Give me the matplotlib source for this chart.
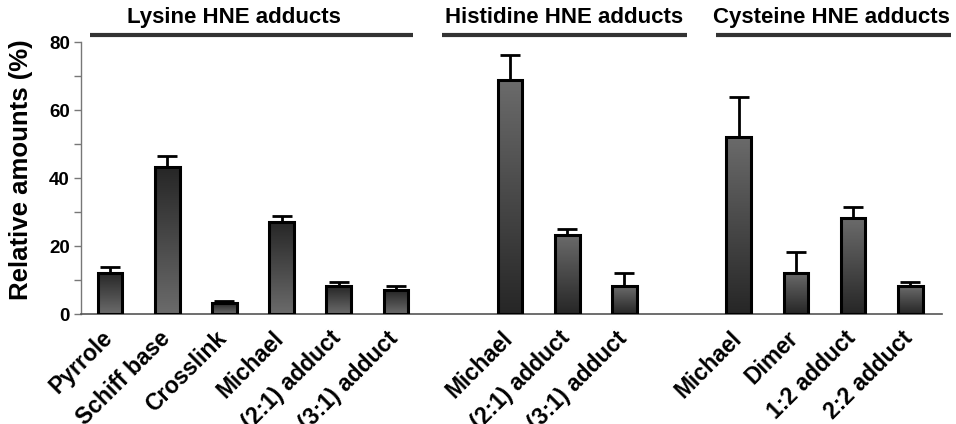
import numpy as np
import matplotlib.pyplot as plt
import matplotlib.transforms as mtransforms
from matplotlib.colors import LinearSegmentedColormap

plt.rcParams['font.family'] = ['Liberation Sans', 'DejaVu Sans']
plt.rcParams['font.weight'] = 'bold'

# Adduct categories, grouped by amino acid
lysine = ['Pyrrole', 'Schiff base', 'Crosslink', 'Michael', '(2:1) adduct', '(3:1) adduct']
histidine = ['Michael', '(2:1) adduct', '(3:1) adduct']
cysteine = ['Michael', 'Dimer', '1:2 adduct', '2:2 adduct']

lysine_vals = [12.1, 43.3, 3.2, 27.2, 8.2, 7.0]
lysine_err = [1.7, 3.2, 0.7, 1.7, 1.3, 1.2]
histidine_vals = [68.8, 23.3, 8.2]
histidine_err = [7.5, 1.8, 3.8]
cysteine_vals = [52.1, 12.2, 28.2, 8.2]
cysteine_err = [11.6, 5.9, 3.2, 1.3]

group_titles = ['Lysine HNE adducts', 'Histidine HNE adducts', 'Cysteine HNE adducts']
yticks = [0, 20, 40, 60, 80]

fig = plt.figure(figsize=(9.56, 4.24), dpi=100)
ax = fig.add_axes([0.0847, 0.2594, 0.9003, 0.6415])

groups = [(lysine, lysine_vals, lysine_err, False),
          (histidine, histidine_vals, histidine_err, True),
          (cysteine, cysteine_vals, cysteine_err, True)]

dark_top = LinearSegmentedColormap.from_list('dt', ['#6b6b6b', '#262626'])
light_top = LinearSegmentedColormap.from_list('lt', ['#262626', '#6b6b6b'])

width = 0.43
pos = 0
xs, labels = [], []
for names, vals, errs, flip in groups:
    x = np.arange(pos, pos + len(names))
    bars = ax.bar(x, vals, width=width, facecolor='none', edgecolor='black',
                  linewidth=2.2, zorder=3)
    grad = np.linspace(0, 1, 256).reshape(-1, 1)
    for b in bars:
        bx, by = b.get_x(), b.get_y()
        im = ax.imshow(grad, cmap=light_top if flip else dark_top, origin='lower',
                       aspect='auto', extent=[bx, bx + b.get_width(), by, by + b.get_height()],
                       zorder=2)
        im.set_clip_path(b)
    ax.errorbar(x, vals, yerr=[np.zeros(len(vals)), errs], fmt='none', ecolor='black',
                elinewidth=2, capsize=7, capthick=2, zorder=2.5)
    xs.extend(x)
    labels.extend(names)
    pos = x[-1] + 2

ax.set_xlim(-0.51, 14.55)
ax.set_ylim(0, 80)
ax.set_xticks(xs)
ax.set_xticklabels(labels, rotation=45, ha='right', va='top', rotation_mode='anchor',
                   fontsize=16.5, fontweight='bold')
ax.tick_params(axis='x', length=0, pad=9)
shift = mtransforms.ScaledTranslation(-9 / 100, 0, fig.dpi_scale_trans)
for lab in ax.get_xticklabels():
    lab.set_transform(lab.get_transform() + shift)

ax.set_yticks(yticks)
ax.set_yticks([10, 30, 50, 70], minor=True)
ax.tick_params(axis='y', which='both', direction='out', length=5, width=1, color='#777777',
               labelsize=13.5, pad=3)
for lab in ax.get_yticklabels():
    lab.set_fontweight('bold')
ax.set_ylabel('Relative amounts (%)', fontsize=18.5, fontweight='bold')
ax.yaxis.set_label_coords(-0.056, 0.53)

for side in ['top', 'right']:
    ax.spines[side].set_visible(False)
ax.spines['left'].set_color('#777777')
ax.spines['bottom'].set_color('#555555')
ax.spines['left'].set_linewidth(1)
ax.spines['bottom'].set_linewidth(1.2)

# Group headers with underlines
header_lines = [(-0.35, 5.30), (5.80, 10.10), (10.61, 14.72)]
header_text_x = [2.17, 7.95, 12.62]
for title, (x0, x1), tx in zip(group_titles, header_lines, header_text_x):
    ax.plot([x0, x1], [82.1, 82.1], color='#333333', lw=3, clip_on=False, solid_capstyle='butt')
    ax.text(tx, 87.2, title, ha='center', va='center', fontsize=16, fontweight='bold',
            clip_on=False)

fig.savefig('out.png', dpi=100)
